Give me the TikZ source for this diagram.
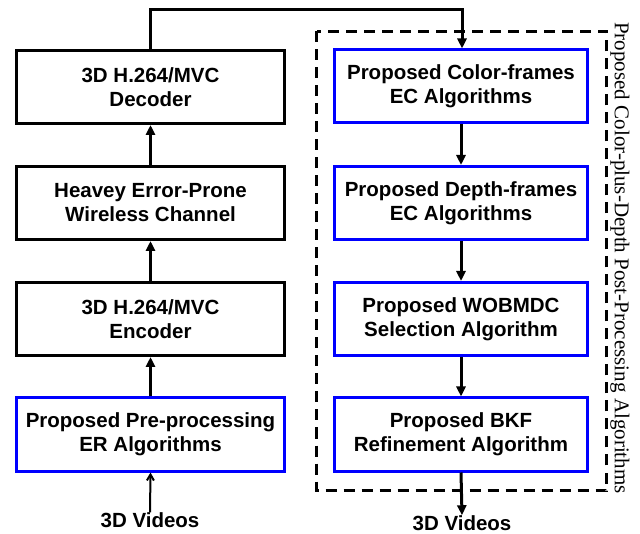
\documentclass[tikz,border=0pt]{standalone}
\usepackage{fontspec}
\setmainfont{Liberation Serif}
\newfontfamily\arialf{Liberation Sans}
\usetikzlibrary{arrows.meta}
\tikzset{
  blk/.style={draw=black, line width=3pt, minimum width=268pt, minimum height=73pt,
    align=center, font=\arialf\bfseries\fontsize{20.5}{24}\selectfont, inner sep=0pt},
  pblk/.style={blk, draw={rgb,255:red,0;green,0;blue,255}, minimum width=253pt},
  conn/.style={line width=3pt, -{Triangle[length=10pt,width=9pt]}},
  lbl/.style={font=\arialf\bfseries\fontsize{20.5}{24}\selectfont, inner sep=0pt},
  dbox/.style={draw, line width=3pt, dash pattern=on 11pt off 7pt}
}
\begin{document}
\begin{tikzpicture}[x=1pt,y=-1pt]
\useasboundingbox (0,0) rectangle (640,534);
% left column
\node[blk] (dec) at (150.5,87) {3D H.264/MVC\\Decoder};
\node[blk] (chan) at (150.5,203) {Heavey Error-Prone\\Wireless Channel};
\node[blk] (enc) at (150.5,319) {3D H.264/MVC\\Encoder};
\node[pblk, minimum width=268pt] (pre) at (150.5,434.5) {Proposed Pre-processing\\ER Algorithms};
\node[lbl] (vin) at (150,520) {3D Videos};
% right column
\node[pblk] (col) at (461,86.5) {Proposed Color-frames\\EC Algorithms};
\node[pblk] (dep) at (461,203) {Proposed Depth-frames\\EC Algorithms};
\node[pblk] (wob) at (461,319) {Proposed WOBMDC\\Selection Algorithm};
\node[pblk] (bkf) at (461,434.5) {Proposed BKF\\Refinement Algorithm};
\node[lbl] (vout) at (462,523) {3D Videos};
% dashed container
\draw[dbox] (316.5,31.5) rectangle (606.5,490.5);
\node[rotate=-90, font=\fontsize{21}{24}\selectfont, inner sep=0pt] (ttl) at (620,258) {Proposed Color-plus-Depth Post-Processing Algorithms};
% connectors
\draw[line width=2pt, -{Straight Barb[length=6pt,width=7pt]}] (vin.north) -- (pre.south);
\draw[conn] (pre) -- (enc);
\draw[conn] (enc) -- (chan);
\draw[conn] (chan) -- (dec);
\coordinate (c1) at (150.5,9.5);
\coordinate (c2) at (462,9.5);
\draw[conn] (dec.north) -- (c1) -- (c2) -- (col.north -| c2);
\draw[conn] (col) -- (dep);
\draw[conn] (dep) -- (wob);
\draw[conn] (wob) -- (bkf);
\draw[conn] (bkf.south) -- (vout.north);
\end{tikzpicture}
\end{document}
